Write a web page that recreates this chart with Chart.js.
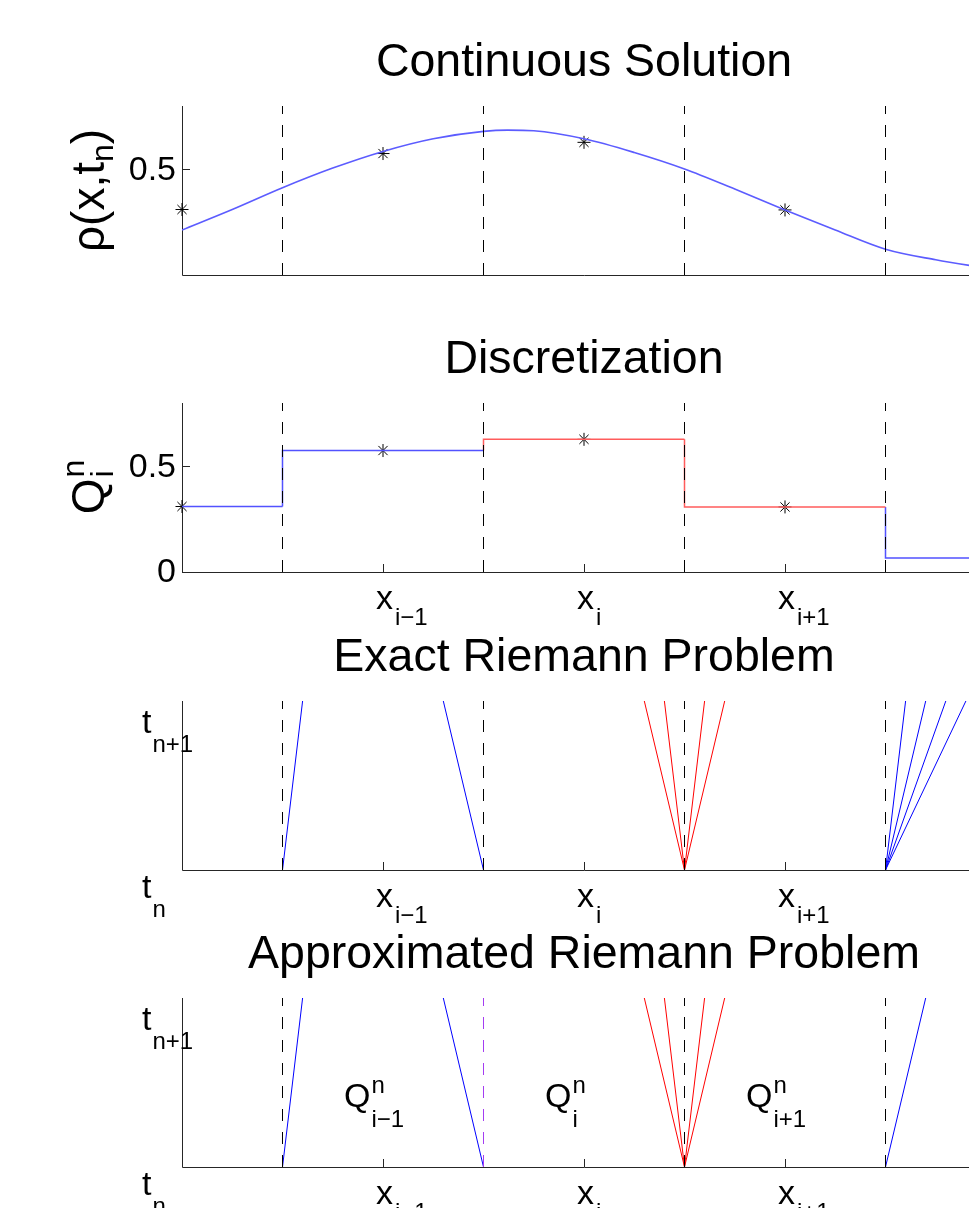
<!DOCTYPE html>
<html><head><meta charset="utf-8">
<script src="https://cdn.jsdelivr.net/npm/chart.js@4.4.1/dist/chart.umd.min.js"></script>
<style>
html,body{margin:0;padding:0;background:#fff;overflow:hidden;width:969px;height:1208px;position:relative;}
canvas{position:absolute;left:0;}
</style></head><body>
<canvas id="c1" width="1000" height="400" style="top:0px"></canvas>
<canvas id="c2" width="1000" height="400" style="top:297px"></canvas>
<canvas id="c3" width="1000" height="400" style="top:595px"></canvas>
<canvas id="c4" width="1000" height="400" style="top:892px"></canvas>
<script>
// ---------------- data ----------------
const titles = ['Continuous Solution', 'Discretization', 'Exact Riemann Problem', 'Approximated Riemann Problem'];
const curveX   = [0, 0.25, 0.5, 0.75, 1.0, 1.25, 1.5, 1.62, 1.75, 2.0, 2.25, 2.5, 2.75, 3.0, 3.25, 3.5, 3.75, 4.0];
const curveRho = [0.213, 0.31, 0.413, 0.506, 0.585, 0.645, 0.680, 0.686, 0.683, 0.645, 0.58, 0.502, 0.407, 0.308, 0.213, 0.122, 0.072, 0.033];
const cellCenters = [0, 1, 2, 3];
const cellEdges = [0, 0.5, 1.5, 2.5, 3.5, 4];
const cellAverages = [0.31, 0.575, 0.628, 0.308, 0.066];
const interfaces = [0.5, 1.5, 2.5, 3.5];
const xTickValues = [1, 2, 3];
const xTickSubs = ['i\u22121', 'i', 'i+1'];
const rhoTicks = [0.5];
const qTicks = [0, 0.5];
const exactWaveFoot = [0.5, 1.5, 2.5, 2.5, 2.5, 2.5, 3.5, 3.5, 3.5, 3.5];
const exactWaveHead = [0.6, 1.3, 2.3, 2.4, 2.6, 2.7, 3.6, 3.7, 3.8, 3.9];
const approxWaveFoot = [0.5, 1.5, 2.5, 2.5, 2.5, 2.5, 3.5];
const approxWaveHead = [0.6, 1.3, 2.3, 2.4, 2.6, 2.7, 3.7];
const cellLabelSubs = ['i\u22121', 'i', 'i+1'];

// ---------------- styles ----------------
const FONT = '"Liberation Sans", Arial, Helvetica, sans-serif';
const BLUE = '#0000ff', RED = '#ff0000';
const cellColors = ['#5252ff', '#5252ff', '#ff5c5c', '#ff5c5c', '#5252ff'];
const exactWaveColors = [BLUE, BLUE, RED, RED, RED, RED, BLUE, BLUE, BLUE, BLUE];
const approxWaveColors = [BLUE, BLUE, RED, RED, RED, RED, BLUE];
const approxInterfaceColors = ['#000', '#a43cf2', '#000', '#000'];
const DASH = [12, 11];

// ---------------- helpers ----------------
function dashedLines(ymax, colors) {
  return interfaces.map((b, i) => ({
    data: [{x: b, y: 0}, {x: b, y: ymax}], showLine: true,
    borderColor: colors ? colors[i] : '#000', borderWidth: 1, borderDash: DASH,
    pointRadius: 0
  }));
}
function waves(foot, head, colors) {
  return foot.map((f, i) => ({
    data: [{x: f, y: 0}, {x: head[i], y: 1}], showLine: true,
    borderColor: colors[i], borderWidth: 1, pointRadius: 0
  }));
}
function stars(vals) {
  return {
    data: cellCenters.map((x, i) => ({x, y: vals[i]})), showLine: false,
    pointStyle: 'star', pointRadius: 6.5, pointBorderColor: '#000', pointBorderWidth: 1,
    pointBackgroundColor: '#000', clip: false
  };
}
function cellSteps() {
  const out = [];
  for (let i = 0; i < cellAverages.length; i++) {
    const pts = [];
    if (i > 0) pts.push({x: cellEdges[i], y: cellAverages[i - 1]});
    pts.push({x: cellEdges[i], y: cellAverages[i]});
    pts.push({x: cellEdges[i + 1], y: cellAverages[i]});
    out.push({data: pts, showLine: true, borderColor: cellColors[i], borderWidth: 1.5, pointRadius: 0});
  }
  return out;
}
function txt(ctx, s, x, y, size, align, base) {
  ctx.font = size + 'px ' + FONT;
  ctx.textAlign = align || 'left';
  ctx.textBaseline = base || 'alphabetic';
  ctx.fillText(s, x, y);
  return ctx.measureText(s).width;
}
const MAIN = 34, SUB = 24;
const LAB = 46, LABSUB = 32;

function deco(spec) {
  return {
    id: 'deco',
    beforeDatasetsDraw(chart) {
      const {ctx, chartArea: a, scales: {x, y}} = chart;
      ctx.save();
      ctx.strokeStyle = '#262626'; ctx.lineWidth = 1;
      ctx.beginPath();
      ctx.moveTo(a.left + 0.5, a.top); ctx.lineTo(a.left + 0.5, a.bottom + 0.5);
      ctx.lineTo(a.right, a.bottom + 0.5);
      (spec.yTicks || []).forEach(v => {
        const py = Math.round(y.getPixelForValue(v)) + 0.5;
        ctx.moveTo(a.left, py); ctx.lineTo(a.left + 8, py);
      });
      if (spec.xTicks) xTickValues.forEach(v => {
        const px = Math.round(x.getPixelForValue(v)) + 0.5;
        ctx.moveTo(px, a.bottom); ctx.lineTo(px, a.bottom - 8);
      });
      ctx.stroke();
      ctx.restore();
    },
    afterDraw(chart) {
      const {ctx, chartArea: a, scales: {x, y}} = chart;
      ctx.save();
      ctx.fillStyle = '#000';
      txt(ctx, spec.title, (a.left + a.right) / 2, a.top - 30, 46.5, 'center');
      (spec.yTicks || []).forEach(v => {
        txt(ctx, String(v), a.left - 6, y.getPixelForValue(v) + 1, MAIN, 'right', 'middle');
      });
      if (spec.xTicks) xTickValues.forEach((v, i) => {
        const px = x.getPixelForValue(v);
        const w = txt(ctx, 'x', px - 7, a.bottom + 37, MAIN);
        txt(ctx, xTickSubs[i], px - 7 + w + 2, a.bottom + 53, SUB);
      });
      if (spec.tLabels) {
        const top = y.getPixelForValue(1), bot = y.getPixelForValue(0);
        let w = txt(ctx, 't', 142, top + 32, MAIN);
        txt(ctx, 'n+1', 142 + w + 1, top + 51, SUB);
        w = txt(ctx, 't', 142, bot + 28, MAIN);
        txt(ctx, 'n', 142 + w + 1, bot + 47, SUB);
      }
      if (spec.cellLabels) cellCenters.slice(1).forEach((c, i) => {
        const px = x.getPixelForValue(c);
        const base = a.bottom - 60;
        const w = txt(ctx, 'Q', px - 39, base, MAIN);
        txt(ctx, 'n', px - 39 + w + 1, base - 14, SUB);
        txt(ctx, cellLabelSubs[i], px - 39 + w + 1, base + 20, SUB);
      });
      if (spec.yLabel) {
        const cy = (a.top + a.bottom) / 2;
        ctx.translate(104, cy);
        ctx.rotate(-Math.PI / 2);
        if (spec.yLabel === 'rho') {
          ctx.font = LAB + 'px ' + FONT; const w1 = ctx.measureText('\u03c1(x,t').width;
          const w3 = ctx.measureText(')').width;
          ctx.font = LABSUB + 'px ' + FONT; const w2 = ctx.measureText('n').width;
          let sx = -(w1 + w2 + w3) / 2;
          txt(ctx, '\u03c1(x,t', sx, 0, LAB); sx += w1;
          txt(ctx, 'n', sx, 9, LABSUB); sx += w2;
          txt(ctx, ')', sx, 0, LAB);
        } else {
          ctx.font = LAB + 'px ' + FONT; const w1 = ctx.measureText('Q').width;
          ctx.font = LABSUB + 'px ' + FONT; const w2 = ctx.measureText('n').width;
          let sx = -(w1 + w2) / 2;
          txt(ctx, 'Q', sx, 0, LAB); sx += w1 + 1;
          txt(ctx, 'n', sx, -20, LABSUB);
          txt(ctx, 'i', sx, 9, LABSUB);
        }
      }
      ctx.restore();
    }
  };
}

function makeChart(id, datasets, ymax, spec) {
  return new Chart(document.getElementById(id), {
    type: 'scatter',
    data: {datasets},
    options: {
      responsive: false, animation: false, events: [],
      layout: {padding: {left: 182, right: 14, top: 106, bottom: 125}},
      scales: {
        x: {type: 'linear', min: 0, max: 4, display: false},
        y: {type: 'linear', min: 0, max: ymax, display: false}
      },
      plugins: {legend: {display: false}, tooltip: {enabled: false}},
      elements: {line: {tension: 0}}
    },
    plugins: [deco(spec)]
  });
}

makeChart('c1', [
  ...dashedLines(0.8),
  {data: curveX.map((x, i) => ({x, y: curveRho[i]})), showLine: true, borderColor: '#5c5cff',
   borderWidth: 1.6, pointRadius: 0, cubicInterpolationMode: 'monotone'},
  stars(cellAverages)
], 0.8, {title: titles[0], yTicks: rhoTicks, yLabel: 'rho'});

makeChart('c2', [
  ...dashedLines(0.8),
  ...cellSteps(),
  stars(cellAverages)
], 0.8, {title: titles[1], yTicks: qTicks, xTicks: true, yLabel: 'Q'});

makeChart('c3', [
  ...dashedLines(1),
  ...waves(exactWaveFoot, exactWaveHead, exactWaveColors)
], 1, {title: titles[2], xTicks: true, tLabels: true});

makeChart('c4', [
  ...dashedLines(1, approxInterfaceColors),
  ...waves(approxWaveFoot, approxWaveHead, approxWaveColors)
], 1, {title: titles[3], xTicks: true, tLabels: true, cellLabels: true});
</script>
</body></html>
